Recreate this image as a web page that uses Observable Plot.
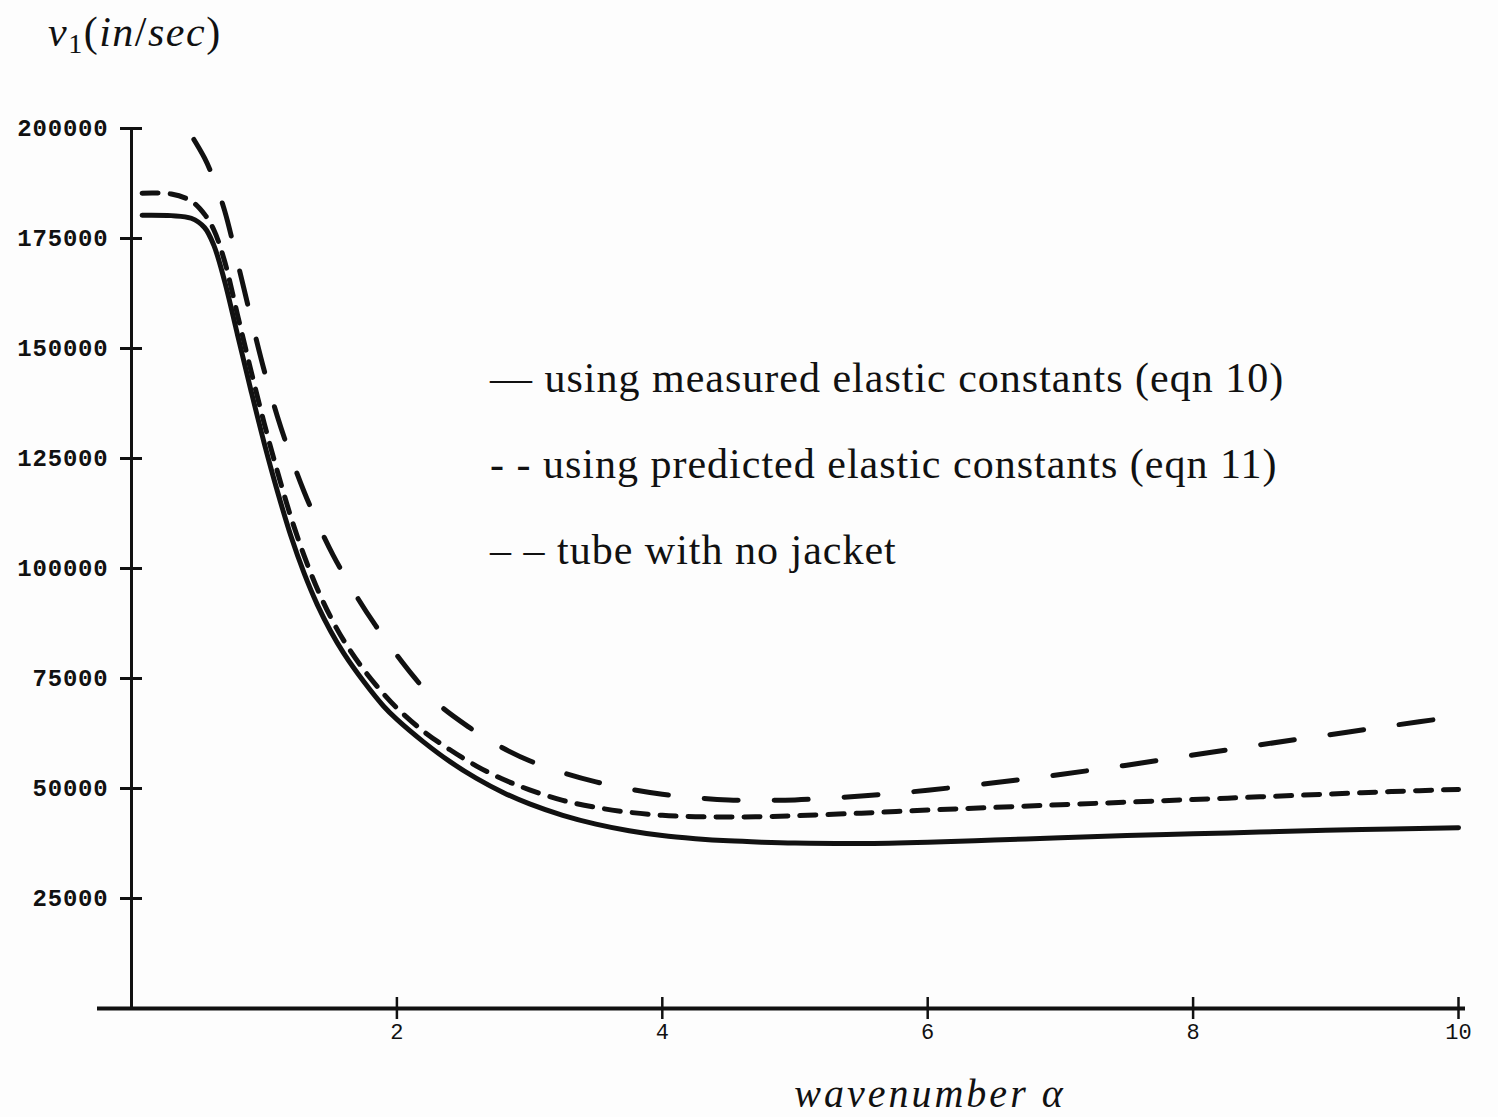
<!DOCTYPE html>
<html>
<head>
<meta charset="utf-8">
<script src="https://cdn.jsdelivr.net/npm/d3@7"></script>
<script src="https://cdn.jsdelivr.net/npm/@observablehq/plot@0.6"></script>
<style>
  html, body { margin: 0; padding: 0; background: #fdfdfd; }
  #wrap { position: relative; width: 1498px; height: 1117px; overflow: hidden; background: #fdfdfd; }
  #title { position: relative; height: 80px; }
  #title span.t { position: absolute; left: 48px; top: 11px; font-family: "Liberation Serif", serif; font-size: 42px; line-height: 1; letter-spacing: 1.5px; color: #111; white-space: nowrap; }
  #title i { font-style: italic; }
  #title sub { font-size: 28px; font-style: normal; vertical-align: -7px; line-height: 0; }
  #xlabel { position: absolute; left: 730px; width: 400px; top: 1074px; text-align: center; font-family: "Liberation Serif", serif; font-style: italic; font-size: 40px; line-height: 1; letter-spacing: 3px; color: #111; white-space: nowrap; }
  #legend { position: absolute; left: 490px; top: 335px; font-family: "Liberation Serif", serif; font-size: 42px; line-height: 86px; letter-spacing: 1px; color: #111; white-space: nowrap; }
  #chart svg { display: block; }
  #chart g[aria-label="y-axis tick label"] { font-family: "Liberation Mono", monospace; font-weight: bold; font-size: 24px; letter-spacing: 0.8px; }
  #chart g[aria-label="x-axis tick label"] { font-family: "Liberation Mono", monospace; font-size: 22px; }
</style>
</head>
<body>
<div id="wrap">
  <div id="title"><span class="t"><i>v</i><sub>1</sub>(<i>in</i>/<i>sec</i>)</span></div>
  <div id="chart"></div>
  <div id="legend"></div>
  <div id="xlabel">wavenumber α</div>
</div>
<script>
// ---- data ----
const seriesLabels = [
  "— using measured elastic constants (eqn 10)",
  "- - using predicted elastic constants (eqn 11)",
  "– – tube with no jacket"
];

const measuredX = [0.08, 0.3, 0.45, 0.55, 0.62, 0.7, 0.8, 0.9, 1.0, 1.1, 1.2, 1.3, 1.4, 1.5, 1.6, 1.75, 1.9, 2.0, 2.2, 2.4, 2.6, 2.8, 3.0, 3.25, 3.5, 3.75, 4.0, 4.25, 4.5, 4.75, 5.0, 5.5, 6.0, 6.5, 7.0, 7.5, 8.0, 8.5, 9.0, 9.5, 10];
const measuredV = [180300, 180200, 179600, 177500, 173500, 165500, 153000, 140500, 128500, 117500, 107500, 99000, 91800, 85800, 80700, 74300, 68700, 65700, 60600, 56100, 52300, 49100, 46500, 43900, 41900, 40400, 39300, 38600, 38100, 37800, 37600, 37500, 37800, 38300, 38800, 39300, 39700, 40100, 40500, 40800, 41100];

const predictedX = [0.08, 0.3, 0.45, 0.55, 0.62, 0.7, 0.8, 0.9, 1.0, 1.1, 1.2, 1.3, 1.4, 1.5, 1.6, 1.75, 1.9, 2.0, 2.2, 2.4, 2.6, 2.8, 3.0, 3.25, 3.5, 3.75, 4.0, 4.25, 4.5, 4.75, 5.0, 5.5, 6.0, 6.5, 7.0, 7.5, 8.0, 8.5, 9.0, 9.5, 10];
const predictedV = [185300, 185100, 183500, 180500, 177000, 170000, 157500, 145000, 133000, 122000, 111800, 103000, 95400, 89000, 83600, 77000, 71500, 68300, 63000, 58800, 55100, 52100, 49700, 47300, 45700, 44600, 43900, 43600, 43500, 43600, 43800, 44400, 45100, 45700, 46300, 46900, 47500, 48100, 48700, 49300, 49800];

const noJacketX = [0.47, 0.55, 0.62, 0.7, 0.8, 0.9, 1.0, 1.1, 1.2, 1.3, 1.4, 1.52, 1.7, 1.84, 2.0, 2.13, 2.3, 2.54, 2.75, 3.0, 3.25, 3.5, 3.75, 4.0, 4.25, 4.5, 4.75, 5.0, 5.25, 5.5, 5.75, 6.0, 6.5, 7.0, 7.5, 8.0, 8.5, 9.0, 9.5, 10];
const noJacketV = [197500, 193300, 188500, 181500, 169500, 157000, 145000, 134500, 125500, 117500, 110500, 103000, 93500, 87000, 80300, 75300, 69500, 64000, 60000, 56300, 53600, 51500, 49900, 48700, 47900, 47400, 47300, 47400, 47800, 48300, 48900, 49600, 51300, 53200, 55300, 57600, 59900, 62100, 64300, 66400];

const xTicks = [2, 4, 6, 8, 10];
const yTicks = [25000, 50000, 75000, 100000, 125000, 150000, 175000, 200000];

// ---- build tables ----
const toRows = (xs, vs) => xs.map((x, i) => ({x, v: vs[i]}));
const measured = toRows(measuredX, measuredV);
const predicted = toRows(predictedX, predictedV);
const noJacket = toRows(noJacketX, noJacketV);

const chart = Plot.plot({
  width: 1498,
  height: 990,
  marginLeft: 97,
  marginRight: 33,
  marginTop: 48,
  marginBottom: 62,
  x: {domain: [0, 10], range: [131, 1458]},
  y: {domain: [0, 200000]},
  style: {background: "transparent", color: "#111", overflow: "visible"},
  marks: [
    Plot.ruleY([0], {stroke: "#111", strokeWidth: 4}),
    Plot.ruleX([0], {stroke: "#111", strokeWidth: 3}),
    Plot.ruleY(yTicks, {y: d => d, x1: 0, x2: 0, insetLeft: -11, insetRight: -11, stroke: "#111", strokeWidth: 3}),
    Plot.ruleX(xTicks, {x: d => d, y1: 0, y2: 0, insetTop: -11, insetBottom: -11, stroke: "#111", strokeWidth: 2.5}),
    Plot.axisY({ticks: yTicks, tickSize: 0, tickPadding: 0, dx: 11, tickFormat: d => String(d), label: null, fontSize: 24, fontWeight: "bold", fontFamily: "Liberation Mono"}),
    Plot.axisX({ticks: xTicks, tickSize: 0, tickPadding: 15, tickFormat: d => String(d), label: null, fontSize: 22, fontFamily: "Liberation Mono"}),
    Plot.line(measured, {x: "x", y: "v", stroke: "#111", strokeWidth: 5, curve: "catmull-rom"}),
    Plot.line(predicted, {x: "x", y: "v", stroke: "#111", strokeWidth: 5, strokeDasharray: "16,12", strokeLinecap: "round", curve: "catmull-rom"}),
    Plot.line(noJacket, {x: "x", y: "v", stroke: "#111", strokeWidth: 5, strokeDasharray: "34,36", strokeLinecap: "round", curve: "catmull-rom"})
  ]
});
document.getElementById("chart").appendChild(chart);

const legend = document.getElementById("legend");
seriesLabels.forEach(t => {
  const d = document.createElement("div");
  d.textContent = t;
  legend.appendChild(d);
});
</script>
</body>
</html>
